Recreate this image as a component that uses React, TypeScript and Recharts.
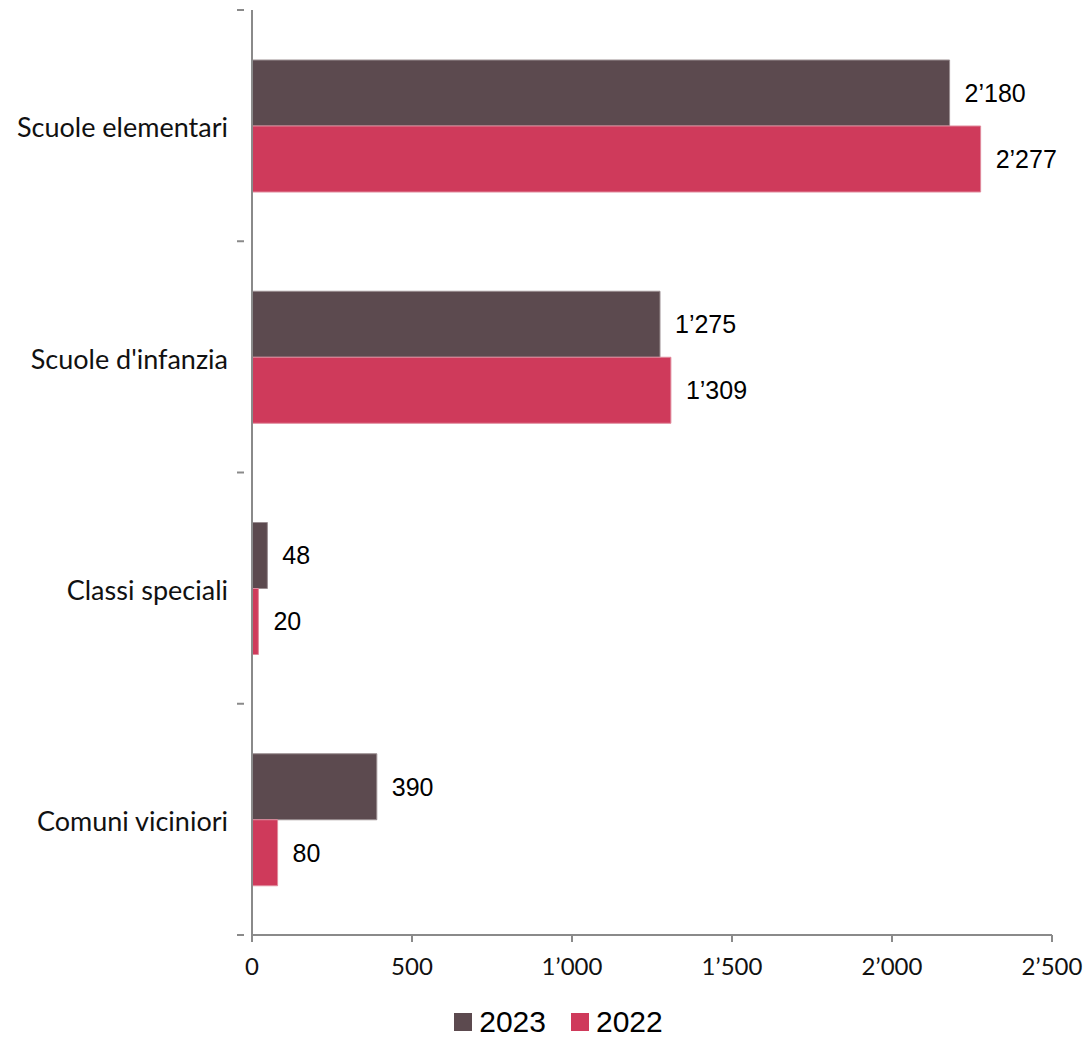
import React from 'react';
import { BarChart, Bar, XAxis, YAxis, LabelList, Legend } from 'recharts';

const categories = ['Scuole elementari', "Scuole d'infanzia", 'Classi speciali', 'Comuni viciniori'];
const values2023 = [2180, 1275, 48, 390];
const values2022 = [2277, 1309, 20, 80];
const xTicks = [0, 500, 1000, 1500, 2000, 2500];
const legendOrder = ['2023', '2022'];

const data = categories.map((name, i) => ({
  name,
  v2023: values2023[i],
  v2022: values2022[i],
}));

const WIDTH = 1087;
const HEIGHT = 1039;
const TOP = 10;
const PLOT_BOTTOM = 935;
const BAND = (PLOT_BOTTOM - TOP) / categories.length;
const AXIS_COLOR = '#8a8a8a';

function fmt(v: number) {
  const s = String(Math.round(v));
  return s.replace(/\B(?=(\d{3})+(?!\d))/g, '\u2019');
}

function CategoryTick(props: any) {
  const { x, y, payload, index } = props;
  const top = y - BAND / 2;
  const isLast = index === categories.length - 1;
  return (
    <g>
      <line x1={x - 7} x2={x} y1={top} y2={top} stroke={AXIS_COLOR} strokeWidth={2} />
      {isLast && (
        <line x1={x - 7} x2={x} y1={y + BAND / 2} y2={y + BAND / 2} stroke={AXIS_COLOR} strokeWidth={2} />
      )}
      <text
        x={x - 16}
        y={y + 5}
        textAnchor="end"
        dominantBaseline="middle"
        fontFamily="Lato"
        fontSize={27}
        fill="#111"
      >
        {payload.value}
      </text>
    </g>
  );
}

function LegendContent(props: any) {
  const { payload } = props;
  const items = [...payload].sort(
    (a: any, b: any) => legendOrder.indexOf(a.value) - legendOrder.indexOf(b.value)
  );
  return (
    <div style={{ display: 'flex', justifyContent: 'center', alignItems: 'center', gap: 25 }}>
      {items.map((p: any) => (
        <div key={p.value} style={{ display: 'flex', alignItems: 'center', gap: 7 }}>
          <span style={{ width: 18, height: 18, background: p.color, display: 'inline-block' }} />
          <span style={{ fontFamily: 'Liberation Sans', fontSize: 30, color: '#000', lineHeight: '28px' }}>
            {p.value}
          </span>
        </div>
      ))}
    </div>
  );
}

export default function App() {
  return (
    <div style={{ position: 'absolute', left: 0, top: 0, background: '#fff' }}>
      <BarChart
        width={WIDTH}
        height={HEIGHT}
        data={data}
        layout="vertical"
        margin={{ top: TOP, right: 35, left: 0, bottom: 10 }}
        barGap={0}
        barSize={66}
      >
        <XAxis
          type="number"
          domain={[0, 2500]}
          ticks={xTicks}
          tickFormatter={fmt}
          axisLine={{ stroke: AXIS_COLOR, strokeWidth: 2 }}
          tickLine={{ stroke: AXIS_COLOR, strokeWidth: 2 }}
          tickSize={7}
          tickMargin={16}
          height={50}
          tick={{ fontFamily: 'Lato', fontSize: 24, fill: '#111' }}
        />
        <YAxis
          type="category"
          dataKey="name"
          width={252}
          axisLine={{ stroke: AXIS_COLOR, strokeWidth: 2 }}
          tickLine={false}
          tick={<CategoryTick />}
          interval={0}
        />
        <Legend
          verticalAlign="bottom"
          height={44}
          content={<LegendContent />}
          wrapperStyle={{ left: 15, width: WIDTH, top: 1008 }}
        />
        <Bar dataKey="v2023" name="2023" fill="#5c4a4f" stroke="#9a8e91" strokeWidth={1} isAnimationActive={false}>
          <LabelList
            dataKey="v2023"
            position="right"
            offset={15}
            formatter={(v: any) => fmt(Number(v))}
            style={{ fontFamily: 'Liberation Sans', fontSize: 25, fill: '#000' }}
          />
        </Bar>
        <Bar dataKey="v2022" name="2022" fill="#cf3a5b" stroke="#e08a9c" strokeWidth={1} isAnimationActive={false}>
          <LabelList
            dataKey="v2022"
            position="right"
            offset={15}
            formatter={(v: any) => fmt(Number(v))}
            style={{ fontFamily: 'Liberation Sans', fontSize: 25, fill: '#000' }}
          />
        </Bar>
      </BarChart>
    </div>
  );
}
